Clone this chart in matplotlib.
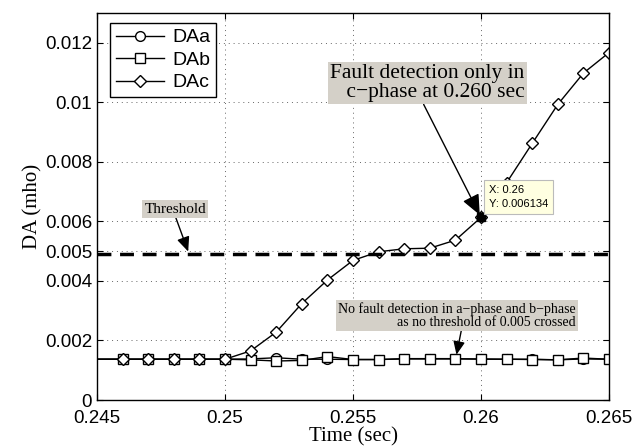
import numpy as np
import matplotlib.pyplot as plt

# Time axis (sec)
t = [0.245, 0.246, 0.247, 0.248, 0.249, 0.250, 0.251, 0.252, 0.253, 0.254, 0.255,
     0.256, 0.257, 0.258, 0.259, 0.260, 0.261, 0.262, 0.263, 0.264, 0.265]

DAa = [0.00137, 0.00137, 0.00137, 0.00137, 0.00137, 0.00137, 0.00138, 0.00142, 0.00137, 0.00137,
       0.00136, 0.00136, 0.00138, 0.00138, 0.00138, 0.00138, 0.00137, 0.00137, 0.00135, 0.00138, 0.00137]
DAb = [0.00137, 0.00137, 0.00137, 0.00137, 0.00137, 0.00137, 0.00135, 0.00131, 0.00133, 0.00146,
       0.00136, 0.00136, 0.00139, 0.00139, 0.00139, 0.00137, 0.00137, 0.00136, 0.00135, 0.00141, 0.00137]
DAc = [0.00137, 0.00137, 0.00137, 0.00137, 0.00137, 0.00137, 0.00165, 0.00228, 0.00324, 0.00403,
       0.00469, 0.00498, 0.00508, 0.00510, 0.00537, 0.006134, 0.0073, 0.00862, 0.00993, 0.01098, 0.01167]

threshold = 0.0049
tip_x, tip_y = 0.26, 0.006134

serif = ['Liberation Serif', 'DejaVu Serif']
sans = ['Liberation Sans', 'DejaVu Sans']
box_col = '#d4d0c8'

fig = plt.figure(figsize=(6.44, 4.48), dpi=100)
ax = fig.add_axes([0.1506, 0.1071, 0.7951, 0.8639])

mk = dict(color='k', lw=1.0, markersize=7, markerfacecolor='white', markeredgewidth=1.0)
ax.plot(t, DAa, marker='o', label='DAa', markevery=range(1, len(t)), **mk)
ax.plot(t, DAb, marker='s', label='DAb', markevery=range(1, len(t)), **mk)
ax.plot(t, DAc, marker='D', label='DAc', markevery=range(1, len(t)), **{**mk, 'markersize': 6.5})
ax.plot([t[0], t[-1]], [threshold, threshold], 'k--', lw=2.5, dashes=(4, 2.5))
ax.plot([tip_x], [tip_y], 's', color='k', markersize=6)

ax.set_xlim(0.245, 0.265)
ax.set_ylim(0, 0.013)
ax.set_xticks([0.245, 0.25, 0.255, 0.26, 0.265])
ax.set_xticklabels(['0.245', '0.25', '0.255', '0.26', '0.265'])
ax.set_yticks([0, 0.002, 0.004, 0.005, 0.006, 0.008, 0.01, 0.012])
ax.set_yticklabels(['0', '0.002', '0.004', '0.005', '0.006', '0.008', '0.01', '0.012'])
ax.tick_params(direction='in', top=True, right=True, labelsize=13.5, length=4)
ax.tick_params(axis='x', pad=7)
for lab in ax.get_xticklabels() + ax.get_yticklabels():
    lab.set_family(sans)
ax.grid(True, color='#666666', linestyle=(0, (1, 4)), lw=0.7)
for s in ax.spines.values():
    s.set_linewidth(1.0)

ax.set_xlabel('Time (sec)', family=serif, fontsize=15, labelpad=0)
ax.set_ylabel('DA (mho)', family=serif, fontsize=15, labelpad=2)

leg = ax.legend(loc='upper left', bbox_to_anchor=(0.025, 0.974), borderaxespad=0,
                prop={'family': sans, 'size': 14},
                fancybox=False, edgecolor='k', framealpha=1, handlelength=2.5,
                borderpad=0.3, labelspacing=0.25, handletextpad=0.4)
leg.get_frame().set_linewidth(1.0)


def arrow(rel):
    return dict(arrowstyle='-|>,head_length=0.8,head_width=0.35', color='k', lw=1.0,
                shrinkA=0, shrinkB=2, relpos=rel)


ax.annotate('Fault detection only in\n c\u2212phase at 0.260 sec', xy=(tip_x, tip_y),
            xytext=(0.2617, 0.01064), ha='right', va='center', family=serif, fontsize=15.5,
            linespacing=1.0, bbox=dict(boxstyle='square,pad=0.1', fc=box_col, ec='none'),
            arrowprops=arrow((0.475, 0)))

ax.annotate('Threshold', xy=(0.2486, threshold), xytext=(0.24805, 0.00641),
            ha='center', va='center', family=serif, fontsize=11,
            bbox=dict(boxstyle='square,pad=0.15', fc=box_col, ec='none'),
            arrowprops=arrow((0.5, 0)))

ax.annotate('No fault detection in a\u2212phase and b\u2212phase\nas no threshold of 0.005 crossed',
            xy=(0.25902, 0.00143), xytext=(0.2637, 0.00285), ha='right', va='center',
            family=serif, fontsize=10, linespacing=1.0,
            bbox=dict(boxstyle='square,pad=0.15', fc=box_col, ec='none'),
            arrowprops=arrow((0.52, 0)))

ax.text(0.26032, 0.00642, 'X: 0.26\nY: 0.006134', family=sans, fontsize=8, ha='left', va='bottom',
        linespacing=1.45, zorder=6,
        bbox=dict(boxstyle='square,pad=0.45', fc='#ffffe1', ec='#bbbbbb', lw=0.8))

plt.savefig('out.png', dpi=100)
